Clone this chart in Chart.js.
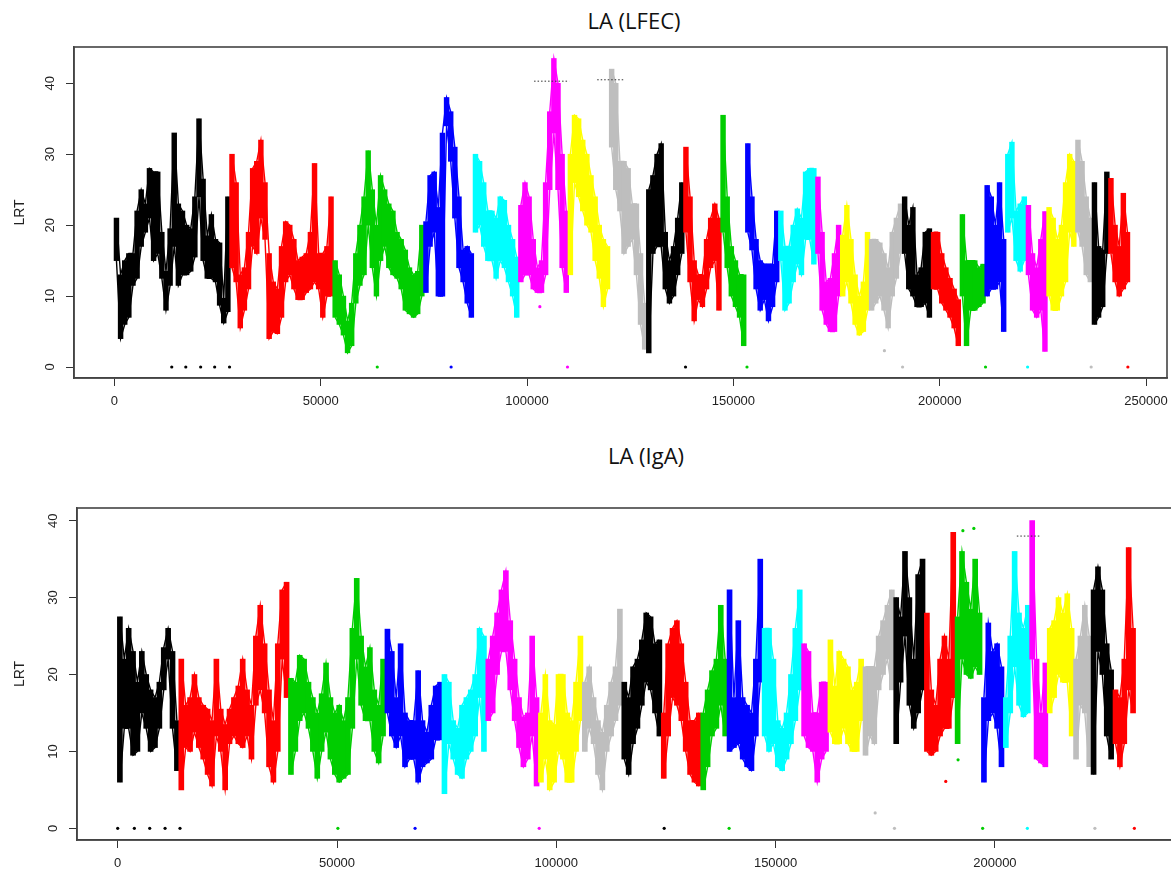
<!DOCTYPE html>
<html><head><meta charset="utf-8">
<script src="https://cdn.jsdelivr.net/npm/chart.js@4.4.1/dist/chart.umd.min.js"></script>
<style>
html,body{margin:0;padding:0;background:#fff;}
#wrap{position:relative;width:1171px;height:872px;overflow:hidden;background:#fff;}
.t{position:absolute;width:400px;text-align:center;font-family:"Open Sans",sans-serif;font-size:22px;line-height:22px;color:#111;white-space:nowrap;}
.cv{position:absolute;left:0;}
</style></head><body>
<div id="wrap">
<div class="t" style="left:434px;top:9px">LA (LFEC)</div>
<div class="t" style="left:446px;top:444px">LA (IgA)</div>
<canvas id="c1" class="cv" style="top:0;width:1171px;height:430px" width="1171" height="430"></canvas>
<canvas id="c2" class="cv" style="top:430px;width:1180px;height:442px" width="1180" height="442"></canvas>
</div>
<script>
// ---------- shared ----------
const palette = ["#000000","#FF0000","#00CD00","#0000FF","#00FFFF","#FF00FF","#FFFF00","#BEBEBE"];
const binSize = 1000;
const xTickStep = 50000;
const yTickStep = 10;

// ---------- LA (LFEC) : segment starts, per-bin low / high LRT ----------
const lfecStarts = [0,28000,53000,75000,87000,98000,110000,120000,129000,138000,147000,153000,161000,170000,176000,183000,191000,198000,205000,211000,216000,221000,226000,233000,237000,241000];
const lfecLow = [
 [15,4,6,7,11.5,12.5,17,19,21,15,16,12.5,8,11.5,17,11.5,13,13,13.5,15.5,24,15,12.5,12.5,12,8.7,6.2,7.8],
 [14,12,5.5,8,11,17,16,21,18,4,5,4.7,7,12,13,11,9.5,9.5,10.5,11,12,11,7,10,10],
 [7,6,4.5,2,3,9,11.5,13,20,14,10,15,17,14,13,12.5,11,8,7.5,7,7.5,10],
 [10.5,17,19,10,10,34,29,21,14,12,9,7],
 [19,20,17,15,15,12.5,15,14,12,10,7],
 [12,13,13,11,10.5,10.5,13,25,33,25,14,10.5],
 [13,26,24,22,20,19,15,12.5,8.5,11],
 [31,25,22,16,17,18,13,6,2.5],
 [2,16,17,17,11,9,10,13,16],
 [19,12,6.5,9.5,8.5,11,14,15,8],
 [19,14,10,8.5,7,3],
 [19,16.5,11,8,9.5,6.5,8.5,12],
 [15,8,9,12,14.5,13,18,18,14.5],
 [16,8,6,5,5,10],
 [10,12,9,6,4.5,5,8],
 [8,9,10,8,5.5,10,12.5,16],
 [16,11,10,8.5,8.5,9,7],
 [11,11,9,8,7,5.5,3],
 [10,3,8,8,8.5,9],
 [10,11,11,12,5],
 [19,21,15,13.5,15],
 [13,8,7,8,2.2],
 [10,8,8,10,12,19,17],
 [19,17,13,12],
 [6,7,8.5,16],
 [16,12,10,11,12]
];
const lfecHigh = [
 [21,13,15,16,16,22,25,23,28,27.5,27.5,19,13.5,19.5,33,23,22,20,19.5,24,35,26.5,18.5,21.5,18,17.5,9.7,24],
 [30,26,13,14,19,28,29,32,26,16,12,11,17,20.5,20,18,15,15.5,16,19,28.7,16,16,17,24],
 [15,13,10,6.5,9,16,20,24,30.5,25,20,27,25,23,22,19,18,16.5,14,13,13.5,20],
 [20.5,27,27.5,22.5,33,38,36,31,24,16.5,17,16],
 [30,29,26,22,22,21,24,23.5,20,18,15.5],
 [22.8,26,24,18,14,15,26,36,43.5,40,30,22],
 [30,35.5,35,32,30,27,24,20,18,17],
 [42,40,29,29,28,23,23,16,9],
 [25,27,30,31.5,19,15,17,21,26],
 [31,24,15,13,13,18,21,23,21],
 [35.5,24,17,15,13,13],
 [31.5,24,18,15,14.5,14.5,14.5,22],
 [22,17,17,20,22.3,21,27.5,28,28],
 [26.8,19,12,12.5,16,20],
 [18.6,22.8,18,13,10,12,19],
 [18,18,17.5,16,14,19,21,23],
 [24,20,22.5,13,14,19,19.5],
 [19,19,16,14,12.5,11,9.5],
 [21.5,15,15,15,14,14.5],
 [25.6,24,20,26,18],
 [30,31.7,22,23,24],
 [22.8,16,14,18,21.9],
 [22.5,21,18,20,26,30,29],
 [32,29,24,21],
 [26,17,16.5,27.5],
 [26.6,20,17,24.5,19]
];
const lfecMarkX = [13900,17300,20900,24300,27900,63700,81600,109800,138400,153300,191000,211100,221300,236700,245600,186600,103100];
const lfecMarkY = [0,0,0,0,0,0,0,0,0,0,0,0,0,0,0,2.3,8.5];
const lfecMarkC = [0,0,0,0,0,2,3,5,0,2,7,2,4,7,1,7,5];
const lfecThrX = [[101700,110200],[117000,123600]];
const lfecThrY = [40.3,40.5];

// ---------- LA (IgA) ----------
const igaStarts = [0,14000,39000,61000,74000,84000,96000,106000,115000,124000,133000,139000,147000,156000,162000,170000,177000,184000,191000,197000,202000,208000,212000,218000,222000,227000];
const igaLow = [
 [6,13,13,9.5,10,15,13,10,10.5,13,18,22,13,7.5],
 [5,10.5,10,12.5,10.5,9,7,5.5,12,10,5,11,12,11,10.5,12,9,16,18,15,8,6,10,22,17],
 [7,10,14,15,13,10,6.5,10,12.5,9,7,6,6.5,7,13,22,16,14,14,10,8.5,12],
 [15,12,10.5,12,8,9,9,6,8,8.5,9,11.5,11.5],
 [4.5,11,9,7,6.5,9,10,12,17,10],
 [14,15,20,23,23,18,14,10.5,8,9,12,5.5],
 [6,9,5,6,10,9,6,6,10,14],
 [10,13,11,7,5,10,12,14,16],
 [9,7,11,13,16,19,18,15,12],
 [6.5,12,17,16,14,10,7,6,5.5],
 [5,8,12,13,16,12],
 [10,10.5,11,9,8,7.5,12,19],
 [12,10,11,8,7.5,9,11,14,18],
 [12,10.5,10,6,9,10],
 [12.5,11,11,13,11,10,10,14],
 [9.5,12,11,18,20,22,18],
 [11,19,25,16,13,15,18],
 [10,9.5,10,12,13,13,17],
 [11,22,20,19.5,21,20],
 [6,14,15,13,8],
 [10.5,15,21,16,14.5,15],
 [22,9,8.5,8],
 [15,17,20,19,19,12],
 [9,16,15,8],
 [7,23,20,12,9],
 [11,8,11,18,15]
];
const igaHigh = [
 [27.5,22,26,23,19,23,20,18,17,19,23.5,26,23,14],
 [22,16,17,20,17,16,15.5,14,22,15.5,13.5,15.5,17,18.5,22,18,16,25,29,24,18,14,24,31,32],
 [19.5,19,22.5,22,19,17,15,17.5,21.5,17,15,16,14,17,26,32.5,25,21,23.5,18,16,22],
 [25.9,23,17,24,15,14,14,20.5,14,12.5,16,18.5,19],
 [20,19,14,13,16,17,18,20,26,25],
 [22,25,28,31,33.5,27,22,17,14.5,15,25,17],
 [15,20,14,13.5,20,20,15,14,19,25],
 [19,21,17,14,12.5,16,19,21,28.5],
 [19,17,21,22,24.5,28,27.5,24,24.5],
 [15,24,26,27,24,19,14,14,15],
 [15,18,20.5,22,29,22],
 [31,17,27,17,16,15,22,35],
 [26,26,22,14,13,15,20,26,31],
 [24,23,15,15,19,19],
 [24.5,18.5,23,22,21,18,19,22],
 [21,21,21,25,27,29,31],
 [30,27.5,36,30,22,33,35],
 [28,18,16,22,25,22,38.5],
 [27.5,36,32,28.5,35,28],
 [17,26.7,23,24,21],
 [17,25,36,28,26,29],
 [40,22,15,21.5],
 [26,27,30,28,30.5,26],
 [22,25,29,25],
 [31,34,31,24,20.6],
 [18,17,22,36.5,26]
];
const igaMarkX = [0,3800,7300,10800,14200,50200,67800,96100,124600,139400,177100,197200,207400,222800,231800,172700,188800,191600,192700,195200];
const igaMarkY = [0,0,0,0,0,0,0,0,0,0,0,0,0,0,0,2.0,6.1,8.9,38.7,39.0];
const igaMarkC = [0,0,0,0,0,2,3,5,0,2,7,2,4,7,1,7,1,2,2,2];
const igaThrX = [[205000,210400]];
const igaThrY = [38];

// ---------- builders ----------
Chart.defaults.font.family = '"Liberation Sans", Arial, sans-serif';
Chart.defaults.color = '#222';

function segmentSets(starts, lows, highs, thick) {
  const sets = [];
  starts.forEach((s, i) => {
    const col = palette[i % 8];
    const xs = lows[i].map((_, k) => s + k * binSize + binSize / 2);
    sets.push({type: 'bar', grouped: false, barThickness: thick, borderWidth: 0, borderSkipped: false,
      backgroundColor: col, order: 100 - i,
      data: lows[i].map((lo, k) => ({x: xs[k], y: [lo, highs[i][k]]}))});
    [lows[i], highs[i]].forEach(vals => {
      sets.push({type: 'line', data: vals.map((v, k) => ({x: xs[k], y: v})), borderColor: col,
        borderWidth: 1.4, pointRadius: 0, tension: 0, fill: false, order: 100 - i});
    });
  });
  return sets;
}
function markerSet(xs, ys, cs) {
  return {type: 'scatter', data: xs.map((x, i) => ({x, y: ys[i]})), showLine: false,
    pointBackgroundColor: cs.map(c => palette[c]), pointBorderWidth: 0, pointRadius: 1.6, order: -10};
}
function thresholdSets(xr, ys) {
  return xr.map((r, i) => ({type: 'line', data: [{x: r[0], y: ys[i]}, {x: r[1], y: ys[i]}],
    borderColor: '#333', borderWidth: 1, borderDash: [1.5, 2], pointRadius: 0, fill: false, order: -20}));
}
function stepTicks(step) {
  return s => {
    const t = [];
    for (let v = Math.ceil(s.min / step) * step; v <= s.max + 1e-9; v += step) t.push({value: v});
    s.ticks = t;
  };
}
const frame = {
  id: 'frame',
  afterDatasetsDraw(chart) {
    const a = chart.chartArea, c = chart.ctx;
    c.save(); c.strokeStyle = '#444'; c.lineWidth = 1.6;
    c.strokeRect(a.left, a.top, a.right - a.left, a.bottom - a.top); c.restore();
  }
};

function makeChart(id, cfg) {
  const datasets = segmentSets(cfg.starts, cfg.low, cfg.high, cfg.thick)
    .concat([markerSet(cfg.mx, cfg.my, cfg.mc)])
    .concat(thresholdSets(cfg.tx, cfg.ty));
  return new Chart(document.getElementById(id), {
    type: 'bar',
    data: {datasets},
    plugins: [frame],
    options: {
      responsive: false, animation: false, events: [],
      layout: {padding: {top: cfg.padTop, right: cfg.padRight, left: 0, bottom: 0}},
      plugins: {legend: {display: false}, tooltip: {enabled: false}, title: {display: false}},
      scales: {
        x: {type: 'linear', min: cfg.xmin, max: cfg.xmax, offset: false,
          afterBuildTicks: stepTicks(xTickStep),
          afterFit(s) { s.height = cfg.xh; s.paddingLeft = 0; s.paddingRight = 0; },
          grid: {display: true, offset: false, drawOnChartArea: false, drawTicks: true, tickLength: 8, color: '#333'},
          border: {display: true, color: '#444', width: 1.5},
          ticks: {autoSkip: false, maxRotation: 0, padding: 8,
            font: {size: 13}, color: '#222', callback: v => String(v)}
        },
        y: {type: 'linear', min: cfg.ymin, max: cfg.ymax,
          afterBuildTicks: stepTicks(yTickStep),
          afterFit(s) { s.width = cfg.yw; },
          grid: {display: true, drawOnChartArea: false, drawTicks: true, tickLength: 8, color: '#333'},
          border: {display: true, color: '#444', width: 1.5},
          ticks: {minRotation: 90, maxRotation: 90,
            crossAlign: 'center', padding: 8, font: {size: 13}, color: '#222', callback: v => String(v)},
          title: {display: true, text: 'LRT', font: {size: 14}, color: '#222', padding: {top: 12, bottom: 0}}
        }
      }
    }
  });
}

makeChart('c1', {starts: lfecStarts, low: lfecLow, high: lfecHigh, mx: lfecMarkX, my: lfecMarkY, mc: lfecMarkC,
  tx: lfecThrX, ty: lfecThrY, padTop: 47, padRight: 1, xh: 52, yw: 74, thick: 4.8,
  xmin: -9790, xmax: 255080, ymin: -1.55, ymax: 45.12});
makeChart('c2', {starts: igaStarts, low: igaLow, high: igaHigh, mx: igaMarkX, my: igaMarkY, mc: igaMarkC,
  tx: igaThrX, ty: igaThrY, padTop: 78, padRight: 4, xh: 32, yw: 77, thick: 5,
  xmin: -9280, xmax: 241290, ymin: -1.52, ymax: 41.65});
</script>
</body></html>
